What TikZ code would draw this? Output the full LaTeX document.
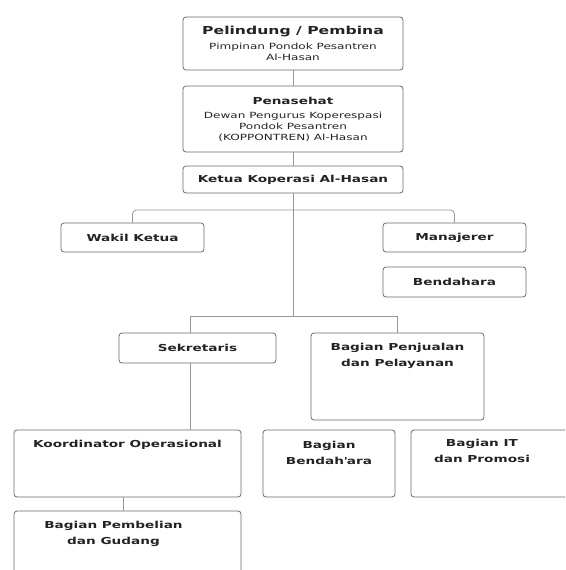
\documentclass[tikz,border=0pt]{standalone}
\usepackage{fontspec}
\setmainfont{DejaVu Sans}[FakeStretch=1.42]
\usetikzlibrary{positioning}
\definecolor{boxgray}{RGB}{105,105,105}
\definecolor{linegray}{RGB}{150,150,150}
\definecolor{ink}{RGB}{35,35,35}
\tikzset{
unit/.style={draw=boxgray, line width=0.8pt, rounded corners=3pt, inner sep=0pt, text=ink, align=center, font=\bfseries\fontsize{9.6}{16}\selectfont},
head/.style={inner sep=0pt, text=ink, align=center, font=\bfseries\fontsize{9.6}{16}\selectfont},
link/.style={draw=linegray, line width=0.8pt},
}
\newcommand{\subttl}{\mdseries\fontsize{8.5}{11}\selectfont}
\begin{document}
\begin{tikzpicture}[x=1pt,y=-1pt]
\useasboundingbox (0,0) rectangle (565,570);
\clip (0,0) rectangle (565,570);
\node[unit, minimum width=220, minimum height=53, font=\subttl] (pel) at (293,43.5) {{\bfseries\fontsize{11}{13}\selectfont Pelindung / Pembina}\\[4pt] Pimpinan Pondok Pesantren\\ Al-Hasan};
\node[unit, minimum width=220, minimum height=66, font=\subttl] (pen) at (293,119) {{\bfseries\fontsize{9.6}{12}\selectfont Penasehat}\\[3pt] Dewan Pengurus Koperespasi\\ Pondok Pesantren\\ (KOPPONTREN) Al-Hasan};
\node[unit, minimum width=220, minimum height=27] (ket) at (293,179.5) {Ketua Koperasi Al-Hasan};
\node[unit, minimum width=143, minimum height=29] (wak) at (132.5,237.5) {Wakil Ketua};
\node[unit, minimum width=143, minimum height=29] (man) at (454.5,237.5) {Manajerer};
\node[unit, minimum width=143, minimum height=30] (ben) at (454.5,282) {Bendahara};
\node[unit, minimum width=157, minimum height=30] (sek) at (197.5,348) {Sekretaris};
\node[unit, minimum width=173, minimum height=87] (pjl) at (397.5,376.5) {};
\node[unit, minimum width=227, minimum height=67] (kor) at (127.5,463.5) {};
\node[unit, minimum width=227, minimum height=70] (pmb) at (127.5,546) {};
\node[unit, minimum width=132, minimum height=67] (bdh) at (329,463.5) {};
\node[unit, minimum width=180, minimum height=67] (bit) at (501,463.5) {};
\node[head, below=10pt of pjl.north] (pjlt) {Bagian Penjualan\\dan Pelayanan};
\node[head, below=10pt of kor.north] (kort) {Koordinator Operasional};
\node[head, below=11pt of bdh.north] (bdht) {Bagian\\Bendah\textquotesingle ara};
\node[head, below=9pt of bit.north, xshift=-19pt] (bitt) {Bagian IT\\dan Promosi};
\node[head, below=10pt of pmb.north, xshift=-14pt] (pmbt) {Bagian Pembelian\\dan Gudang};
\coordinate (b1) at (293,210);
\coordinate (hub) at (293,316);
\coordinate (sx) at (190,316);
\coordinate (kx) at (123,0);
\draw[link] (pel) -- (pen);
\draw[link] (pen) -- (ket);
\draw[link] (ket.south) -- (hub);
\draw[link, rounded corners=4pt] (wak.north) |- (b1) -| (man.north);
\draw[link] (sek.north -| sx) -- (sx) -| (pjl.north);
\draw[link] (sek.south -| sx) -- (kor.north -| sx);
\draw[link] (kor.south -| kx) -- (pmb.north -| kx);
\end{tikzpicture}
\end{document}
